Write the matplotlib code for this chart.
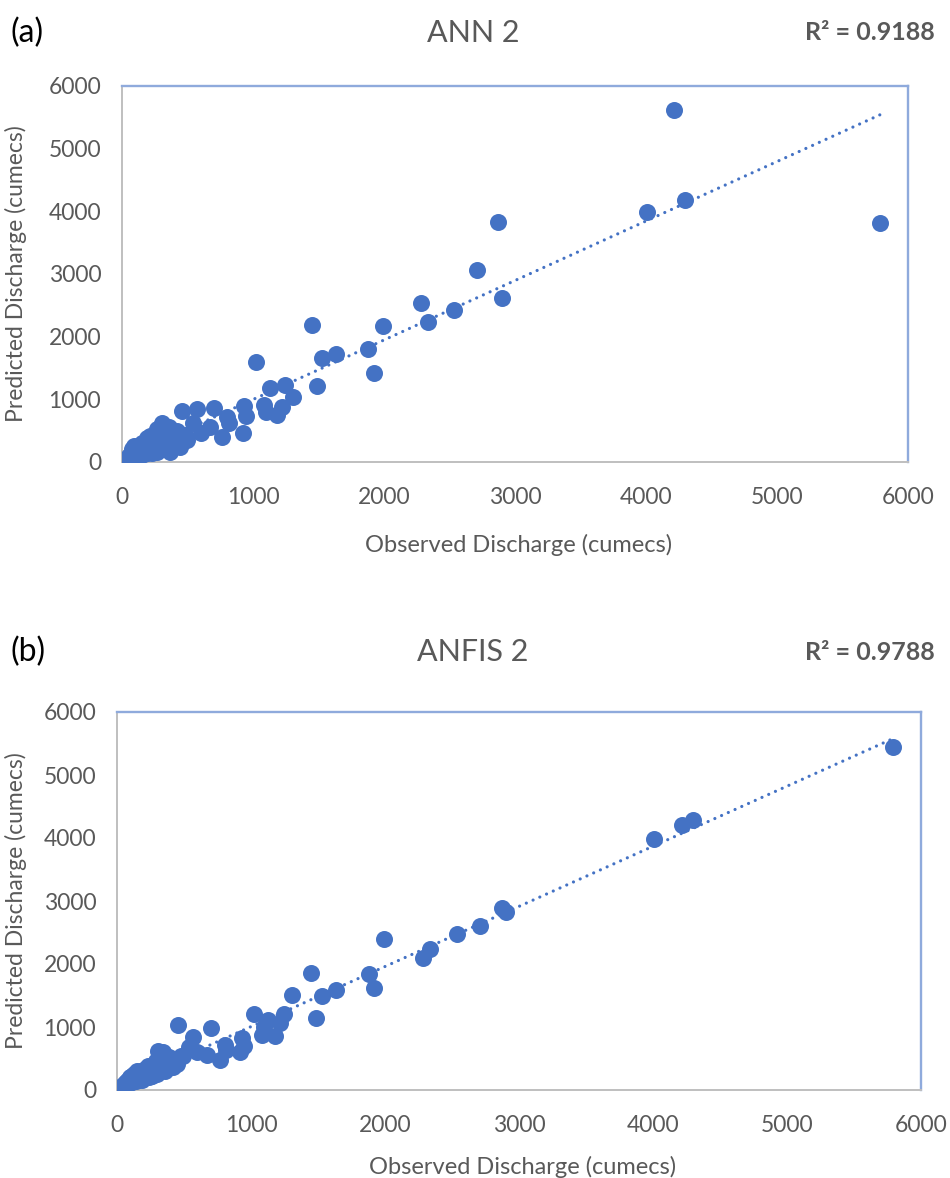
import matplotlib.pyplot as plt
import numpy as np

plt.rcParams['font.family'] = ['Lato', 'DejaVu Sans']

# observed discharge (shared by both models), cumecs
observed = [5790, 4300, 4215, 4005, 2900, 2870, 2710, 2535, 2335, 2285,
            1995, 1920, 1880, 1633, 1530, 1488, 1447, 1305, 1243, 1218,
            1180, 1130, 1100, 1085, 1025, 930, 950, 920, 805, 815,
            700, 765, 675, 600, 570, 455, 495, 540, 340, 305,
            370, 445,
            40, 45, 50, 55, 60, 62, 65, 70, 72, 75,
            80, 85, 88, 90, 95, 100, 105, 110, 115, 120,
            125, 130, 135, 140, 145, 150, 155, 160, 168, 175,
            180, 188, 195, 200, 210, 218, 225, 232, 240, 248,
            255, 262, 270, 278, 285, 292, 300, 310, 318, 325,
            335, 345, 355, 365, 380, 395, 410, 425,
            210, 240, 270, 300, 330, 360, 390, 420, 450, 480,
            150, 190, 230, 260, 290]

pred_ann = [3810, 4180, 5610, 3985, 2610, 3830, 3060, 2425, 2230, 2530,
            2170, 1415, 1800, 1720, 1655, 1215, 2185, 1040, 1230, 880,
            750, 1175, 795, 910, 1590, 895, 735, 465, 725, 615,
            855, 405, 565, 455, 840, 820, 350, 620, 455, 615,
            165, 245,
            60, 35, 90, 50, 110, 40, 70, 140, 60, 200,
            95, 55, 160, 120, 250, 80, 130, 190, 100, 150,
            260, 115, 180, 95, 220, 140, 280, 170, 120, 230,
            300, 150, 200, 260, 180, 330, 240, 140, 290, 370,
            210, 260, 160, 330, 420, 240, 300, 380, 210, 450,
            330, 280, 400, 500, 350, 300, 480, 390,
            420, 300, 520, 360, 440, 560, 300, 500, 380, 430,
            300, 380, 260, 470, 230]

pred_anfis = [5440, 4290, 4200, 3985, 2830, 2895, 2610, 2475, 2235, 2090,
              2390, 1625, 1835, 1590, 1490, 1140, 1860, 1505, 1205, 1060,
              850, 1110, 1000, 875, 1200, 820, 700, 610, 715, 640,
              990, 480, 555, 600, 845, 1030, 540, 690, 610, 625,
              380, 420,
              70, 50, 90, 60, 100, 80, 130, 110, 90, 150,
              120, 100, 180, 140, 120, 200, 160, 130, 220, 150,
              180, 250, 170, 140, 210, 280, 190, 160, 240, 200,
              300, 230, 190, 270, 250, 220, 310, 260, 230, 290,
              340, 270, 250, 320, 300, 360, 280, 340, 320, 390,
              350, 310, 400, 370, 420, 380, 450, 420,
              330, 200, 400, 260, 470, 300, 520, 360, 470, 540,
              300, 160, 380, 220, 460]

panels = ['(a)', '(b)']
titles = ['ANN 2', 'ANFIS 2']
r2_labels = ['R² = 0.9188', 'R² = 0.9788']
ticks = [0, 1000, 2000, 3000, 4000, 5000, 6000]

blue = '#4472C4'
grey = '#595959'

W, H = 950, 1178
fig = plt.figure(figsize=(W / 100, H / 100), dpi=100)

# axes boxes in pixels: left, right, top, bottom
boxes = [(122, 908, 86, 462), (117, 921, 712, 1090)]
title_y = [33, 652]

for i, pred in enumerate([pred_ann, pred_anfis]):
    l, r, t, b = boxes[i]
    ax = fig.add_axes([l / W, 1 - b / H, (r - l) / W, (b - t) / H])
    ax.scatter(observed, pred, s=150, color=blue, linewidths=0, zorder=3)

    # linear trendline like excel's
    k, c = np.polyfit(observed, pred, 1)
    xs = np.array([min(observed), max(observed)])
    ax.plot(xs, k * xs + c, color=blue, lw=2.3, dash_capstyle='round',
            linestyle=(0, (0.01, 2.3)), zorder=2)

    ax.set_xlim(0, 6000)
    ax.set_ylim(0, 6000)
    ax.set_xticks(ticks)
    ax.set_yticks(ticks)
    ax.tick_params(length=0, labelsize=16.5, labelcolor=grey)
    ax.tick_params(axis='x', pad=18)
    ax.tick_params(axis='y', pad=15)
    for s in ['left', 'bottom']:
        ax.spines[s].set_color('#BFBFBF')
        ax.spines[s].set_linewidth(1.4)
    for s in ['top', 'right']:
        ax.spines[s].set_color('#8FAADC')
        ax.spines[s].set_linewidth(1.7)

    ax.set_xlabel('Observed Discharge (cumecs)', fontsize=17, color=grey)
    ax.set_ylabel('Predicted Discharge (cumecs)', fontsize=16.5, color=grey)
    ax.xaxis.set_label_coords(0.505, -0.19 if i == 0 else -0.175)
    ax.yaxis.set_label_coords((27 - l) / (r - l), 0.5)

    fig.text(10 / W, 1 - title_y[i] / H, panels[i], fontsize=23, color='black',
             va='center', ha='left')
    fig.text(473 / W, 1 - title_y[i] / H, titles[i], fontsize=22, color=grey,
             va='center', ha='center')
    fig.text(935 / W, 1 - title_y[i] / H, r2_labels[i], fontsize=18, color=grey,
             va='center', ha='right', fontweight='bold')

plt.savefig('out.png', dpi=100)
